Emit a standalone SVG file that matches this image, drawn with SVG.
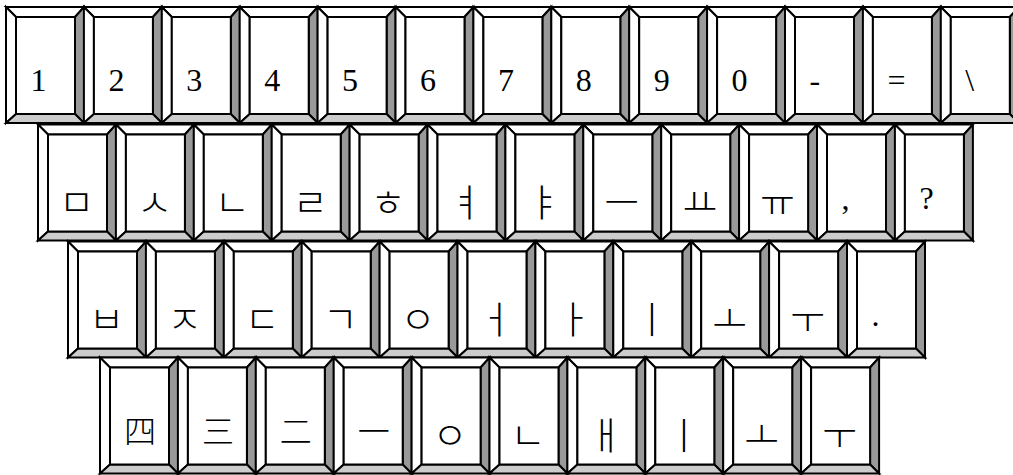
<svg xmlns="http://www.w3.org/2000/svg" xmlns:xlink="http://www.w3.org/1999/xlink" width="1013" height="475" viewBox="0 0 1013 475">
<style>
.b{stroke:#000;stroke-width:2;stroke-linejoin:miter}
.w{fill:#fff}
.d{fill:#999}
.l{fill:#ccc}
text{font-family:"Liberation Serif","Noto Sans CJK KR",serif;font-size:32px;fill:#000}
.k{font-family:"Noto Sans CJK KR","Liberation Serif",sans-serif;font-size:38px;font-weight:200}
.c{font-family:"Noto Sans CJK KR","Liberation Serif",sans-serif;font-size:32px;font-weight:200}
</style>
<defs>
<g id="key">
<polygon class="b w" points="0,0 78,0 69,10 10,10"/>
<polygon class="b w" points="0,0 10,10 10,107 0,116"/>
<polygon class="b d" points="78,0 78,116 69,107 69,10"/>
<polygon class="b l" points="0,116 10,107 69,107 78,116"/>
<rect class="b w" x="10" y="10" width="59" height="97"/>
</g>
</defs>
<rect width="1013" height="475" fill="#fff"/>
<g id="row1">
<g id="k-1" transform="translate(6,7)"><use xlink:href="#key"/><text x="24.5" y="84">1</text></g>
<g id="k-2" transform="translate(83.9,7)"><use xlink:href="#key"/><text x="24.5" y="84">2</text></g>
<g id="k-3" transform="translate(161.8,7)"><use xlink:href="#key"/><text x="24.5" y="84">3</text></g>
<g id="k-4" transform="translate(239.7,7)"><use xlink:href="#key"/><text x="24.5" y="84">4</text></g>
<g id="k-5" transform="translate(317.6,7)"><use xlink:href="#key"/><text x="24.5" y="84">5</text></g>
<g id="k-6" transform="translate(395.5,7)"><use xlink:href="#key"/><text x="24.5" y="84">6</text></g>
<g id="k-7" transform="translate(473.4,7)"><use xlink:href="#key"/><text x="24.5" y="84">7</text></g>
<g id="k-8" transform="translate(551.3,7)"><use xlink:href="#key"/><text x="24.5" y="84">8</text></g>
<g id="k-9" transform="translate(629.2,7)"><use xlink:href="#key"/><text x="24.5" y="84">9</text></g>
<g id="k-0" transform="translate(707.1,7)"><use xlink:href="#key"/><text x="24.5" y="84">0</text></g>
<g id="k-minus" transform="translate(785,7)"><use xlink:href="#key"/><text x="24.5" y="84">-</text></g>
<g id="k-equal" transform="translate(862.9,7)"><use xlink:href="#key"/><text x="24.5" y="84">=</text></g>
<g id="k-backslash" transform="translate(940.8,7)"><use xlink:href="#key"/><text x="24.5" y="84">\</text></g>
</g>
<g id="row2">
<g id="k-m" transform="translate(38,124.5)"><use xlink:href="#key"/><text class="k" x="21" y="91">ㅁ</text></g>
<g id="k-s" transform="translate(115.9,124.5)"><use xlink:href="#key"/><text class="k" x="21" y="91">ㅅ</text></g>
<g id="k-n" transform="translate(193.8,124.5)"><use xlink:href="#key"/><text class="k" x="21" y="91">ㄴ</text></g>
<g id="k-r" transform="translate(271.7,124.5)"><use xlink:href="#key"/><text class="k" x="21" y="91">ㄹ</text></g>
<g id="k-h" transform="translate(349.6,124.5)"><use xlink:href="#key"/><text class="k" x="21" y="91">ㅎ</text></g>
<g id="k-yeo" transform="translate(427.5,124.5)"><use xlink:href="#key"/><text class="k" x="21" y="91">ㅕ</text></g>
<g id="k-ya" transform="translate(505.4,124.5)"><use xlink:href="#key"/><text class="k" x="21" y="91">ㅑ</text></g>
<g id="k-eu" transform="translate(583.3,124.5)"><use xlink:href="#key"/><text class="k" x="21" y="91">ㅡ</text></g>
<g id="k-yo" transform="translate(661.2,124.5)"><use xlink:href="#key"/><text class="k" x="21" y="91">ㅛ</text></g>
<g id="k-yu" transform="translate(739.1,124.5)"><use xlink:href="#key"/><text class="k" x="21" y="91">ㅠ</text></g>
<g id="k-comma" transform="translate(817,124.5)"><use xlink:href="#key"/><text x="24.5" y="84">,</text></g>
<g id="k-question" transform="translate(894.9,124.5)"><use xlink:href="#key"/><text x="24.5" y="84">?</text></g>
</g>
<g id="row3">
<g id="k-b" transform="translate(68,241.5)"><use xlink:href="#key"/><text class="k" x="21" y="91">ㅂ</text></g>
<g id="k-j" transform="translate(145.9,241.5)"><use xlink:href="#key"/><text class="k" x="21" y="91">ㅈ</text></g>
<g id="k-d" transform="translate(223.8,241.5)"><use xlink:href="#key"/><text class="k" x="21" y="91">ㄷ</text></g>
<g id="k-g" transform="translate(301.7,241.5)"><use xlink:href="#key"/><text class="k" x="21" y="91">ㄱ</text></g>
<g id="k-ng" transform="translate(379.6,241.5)"><use xlink:href="#key"/><text class="k" x="21" y="91">ㅇ</text></g>
<g id="k-eo" transform="translate(457.5,241.5)"><use xlink:href="#key"/><text class="k" x="21" y="91">ㅓ</text></g>
<g id="k-a" transform="translate(535.4,241.5)"><use xlink:href="#key"/><text class="k" x="21" y="91">ㅏ</text></g>
<g id="k-i" transform="translate(613.3,241.5)"><use xlink:href="#key"/><text class="k" x="21" y="91">ㅣ</text></g>
<g id="k-o" transform="translate(691.2,241.5)"><use xlink:href="#key"/><text class="k" x="21" y="91">ㅗ</text></g>
<g id="k-u" transform="translate(769.1,241.5)"><use xlink:href="#key"/><text class="k" x="21" y="91">ㅜ</text></g>
<g id="k-period" transform="translate(847,241.5)"><use xlink:href="#key"/><text x="24.5" y="84">.</text></g>
</g>
<g id="row4">
<g id="k-four" transform="translate(100,357.5)"><use xlink:href="#key"/><text class="c" x="24" y="85">四</text></g>
<g id="k-three" transform="translate(177.9,357.5)"><use xlink:href="#key"/><text class="c" x="24" y="85">三</text></g>
<g id="k-two" transform="translate(255.8,357.5)"><use xlink:href="#key"/><text class="c" x="24" y="85">二</text></g>
<g id="k-one" transform="translate(333.7,357.5)"><use xlink:href="#key"/><text class="c" x="24" y="85">一</text></g>
<g id="k-ng2" transform="translate(411.6,357.5)"><use xlink:href="#key"/><text class="k" x="21" y="91">ㅇ</text></g>
<g id="k-n2" transform="translate(489.5,357.5)"><use xlink:href="#key"/><text class="k" x="21" y="91">ㄴ</text></g>
<g id="k-ae" transform="translate(567.4,357.5)"><use xlink:href="#key"/><text class="k" x="21" y="91">ㅐ</text></g>
<g id="k-i2" transform="translate(645.3,357.5)"><use xlink:href="#key"/><text class="k" x="21" y="91">ㅣ</text></g>
<g id="k-o2" transform="translate(723.2,357.5)"><use xlink:href="#key"/><text class="k" x="21" y="91">ㅗ</text></g>
<g id="k-u2" transform="translate(801.1,357.5)"><use xlink:href="#key"/><text class="k" x="21" y="91">ㅜ</text></g>
</g>
<g id="connectors"/>
</svg>
